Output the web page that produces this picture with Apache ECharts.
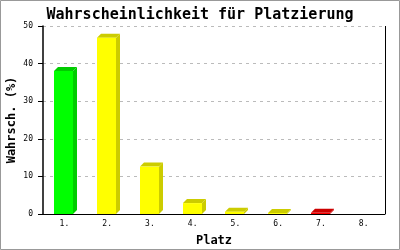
<!DOCTYPE html>
<html><head><meta charset="utf-8">
<script src="https://cdn.jsdelivr.net/npm/echarts@6/dist/echarts.min.js"></script>
<style>html,body{margin:0;padding:0;background:#fff}#c{width:400px;height:250px}</style>
</head><body><div id="c"></div>
<script>
const categories = ['1.','2.','3.','4.','5.','6.','7.','8.'];
const values = [38.0, 46.9, 12.6, 2.9, 0.6, 0.25, 0.3, 0];
const barColorKeys = ['green','yellow','yellow','yellow','yellow','yellow','red','red'];
const yTicks = [0, 10, 20, 30, 40, 50];

const palette = {
  green: {front:'#00ff00', dark:'#00cc00'},
  yellow:{front:'#ffff00', dark:'#cccc00'},
  red:   {front:'#ff0000', dark:'#cc0000'}
};
const chart = echarts.init(document.getElementById('c'), null, {renderer:'canvas'});
const mono = '"DejaVu Sans Mono", "Liberation Mono", monospace';
chart.setOption({
  animation:false,
  backgroundColor:'#fff',
  title:{text:'Wahrscheinlichkeit für Platzierung', left:'center', top:3,
    textStyle:{fontFamily:mono, fontSize:15, fontWeight:'bold', color:'#000'}},
  grid:{left:43, right:15, top:26, bottom:36, containLabel:false, outerBoundsMode:'none'},
  xAxis:{type:'category', data:categories, boundaryGap:true,
    name:'Platz', nameLocation:'middle', nameGap:21, nameMoveOverlap:false,
    nameTextStyle:{fontFamily:mono, fontSize:12, fontWeight:'bold', color:'#000'},
    axisLine:{lineStyle:{color:'#000', width:1}}, axisTick:{show:false},
    axisLabel:{fontFamily:mono, fontSize:8, color:'#000', margin:6}},
  yAxis:{type:'value', min:0, max:50, interval:10,
    name:'Wahrsch. (%)', nameLocation:'middle', nameGap:25, nameRotate:90, nameMoveOverlap:false,
    nameTextStyle:{fontFamily:mono, fontSize:12, fontWeight:'bold', color:'#000'},
    axisLine:{show:true, lineStyle:{color:'#000', width:1.5}},
    axisTick:{show:true, length:5, lineStyle:{color:'#000'}},
    axisLabel:{fontFamily:mono, fontSize:8, color:'#000', margin:10,
      formatter:v=> yTicks.includes(v) ? String(v) : ''},
    splitLine:{show:true, lineStyle:{color:'#bbb', type:[3,4], width:1}}},
  graphic:[
    {type:'rect', shape:{x:0.5,y:0.5,width:399,height:249}, style:{fill:'none', stroke:'#999', lineWidth:1}, silent:true},
    {type:'line', shape:{x1:385.5,y1:26,x2:385.5,y2:214}, style:{stroke:'#000', lineWidth:1}, silent:true}
  ],
  series:[{
    type:'custom',
    data: values.map((v,i)=>[i, v]),
    renderItem:(params, api)=>{
      const i = api.value(0), v = api.value(1);
      if (!(v > 0)) return null;
      const top = api.coord([i, v]);
      const base = api.coord([i, 0]);
      const c = palette[barColorKeys[i]];
      const d = 4, w = 19;
      const x0 = Math.round(top[0]) - 10, x1 = x0 + w;
      const yT = top[1], yB = base[1];
      return {type:'group', children:[
        {type:'polygon', shape:{points:[[x1,yT],[x1+d,yT-d],[x1+d,yB-d],[x1,yB]]}, style:{fill:c.dark}},
        {type:'polygon', shape:{points:[[x0,yT],[x0+d,yT-d],[x1+d,yT-d],[x1,yT]]}, style:{fill:c.dark}},
        {type:'rect', shape:{x:x0, y:yT, width:w, height:yB-yT}, style:{fill:c.front}}
      ]};
    }
  }]
});
</script></body></html>
